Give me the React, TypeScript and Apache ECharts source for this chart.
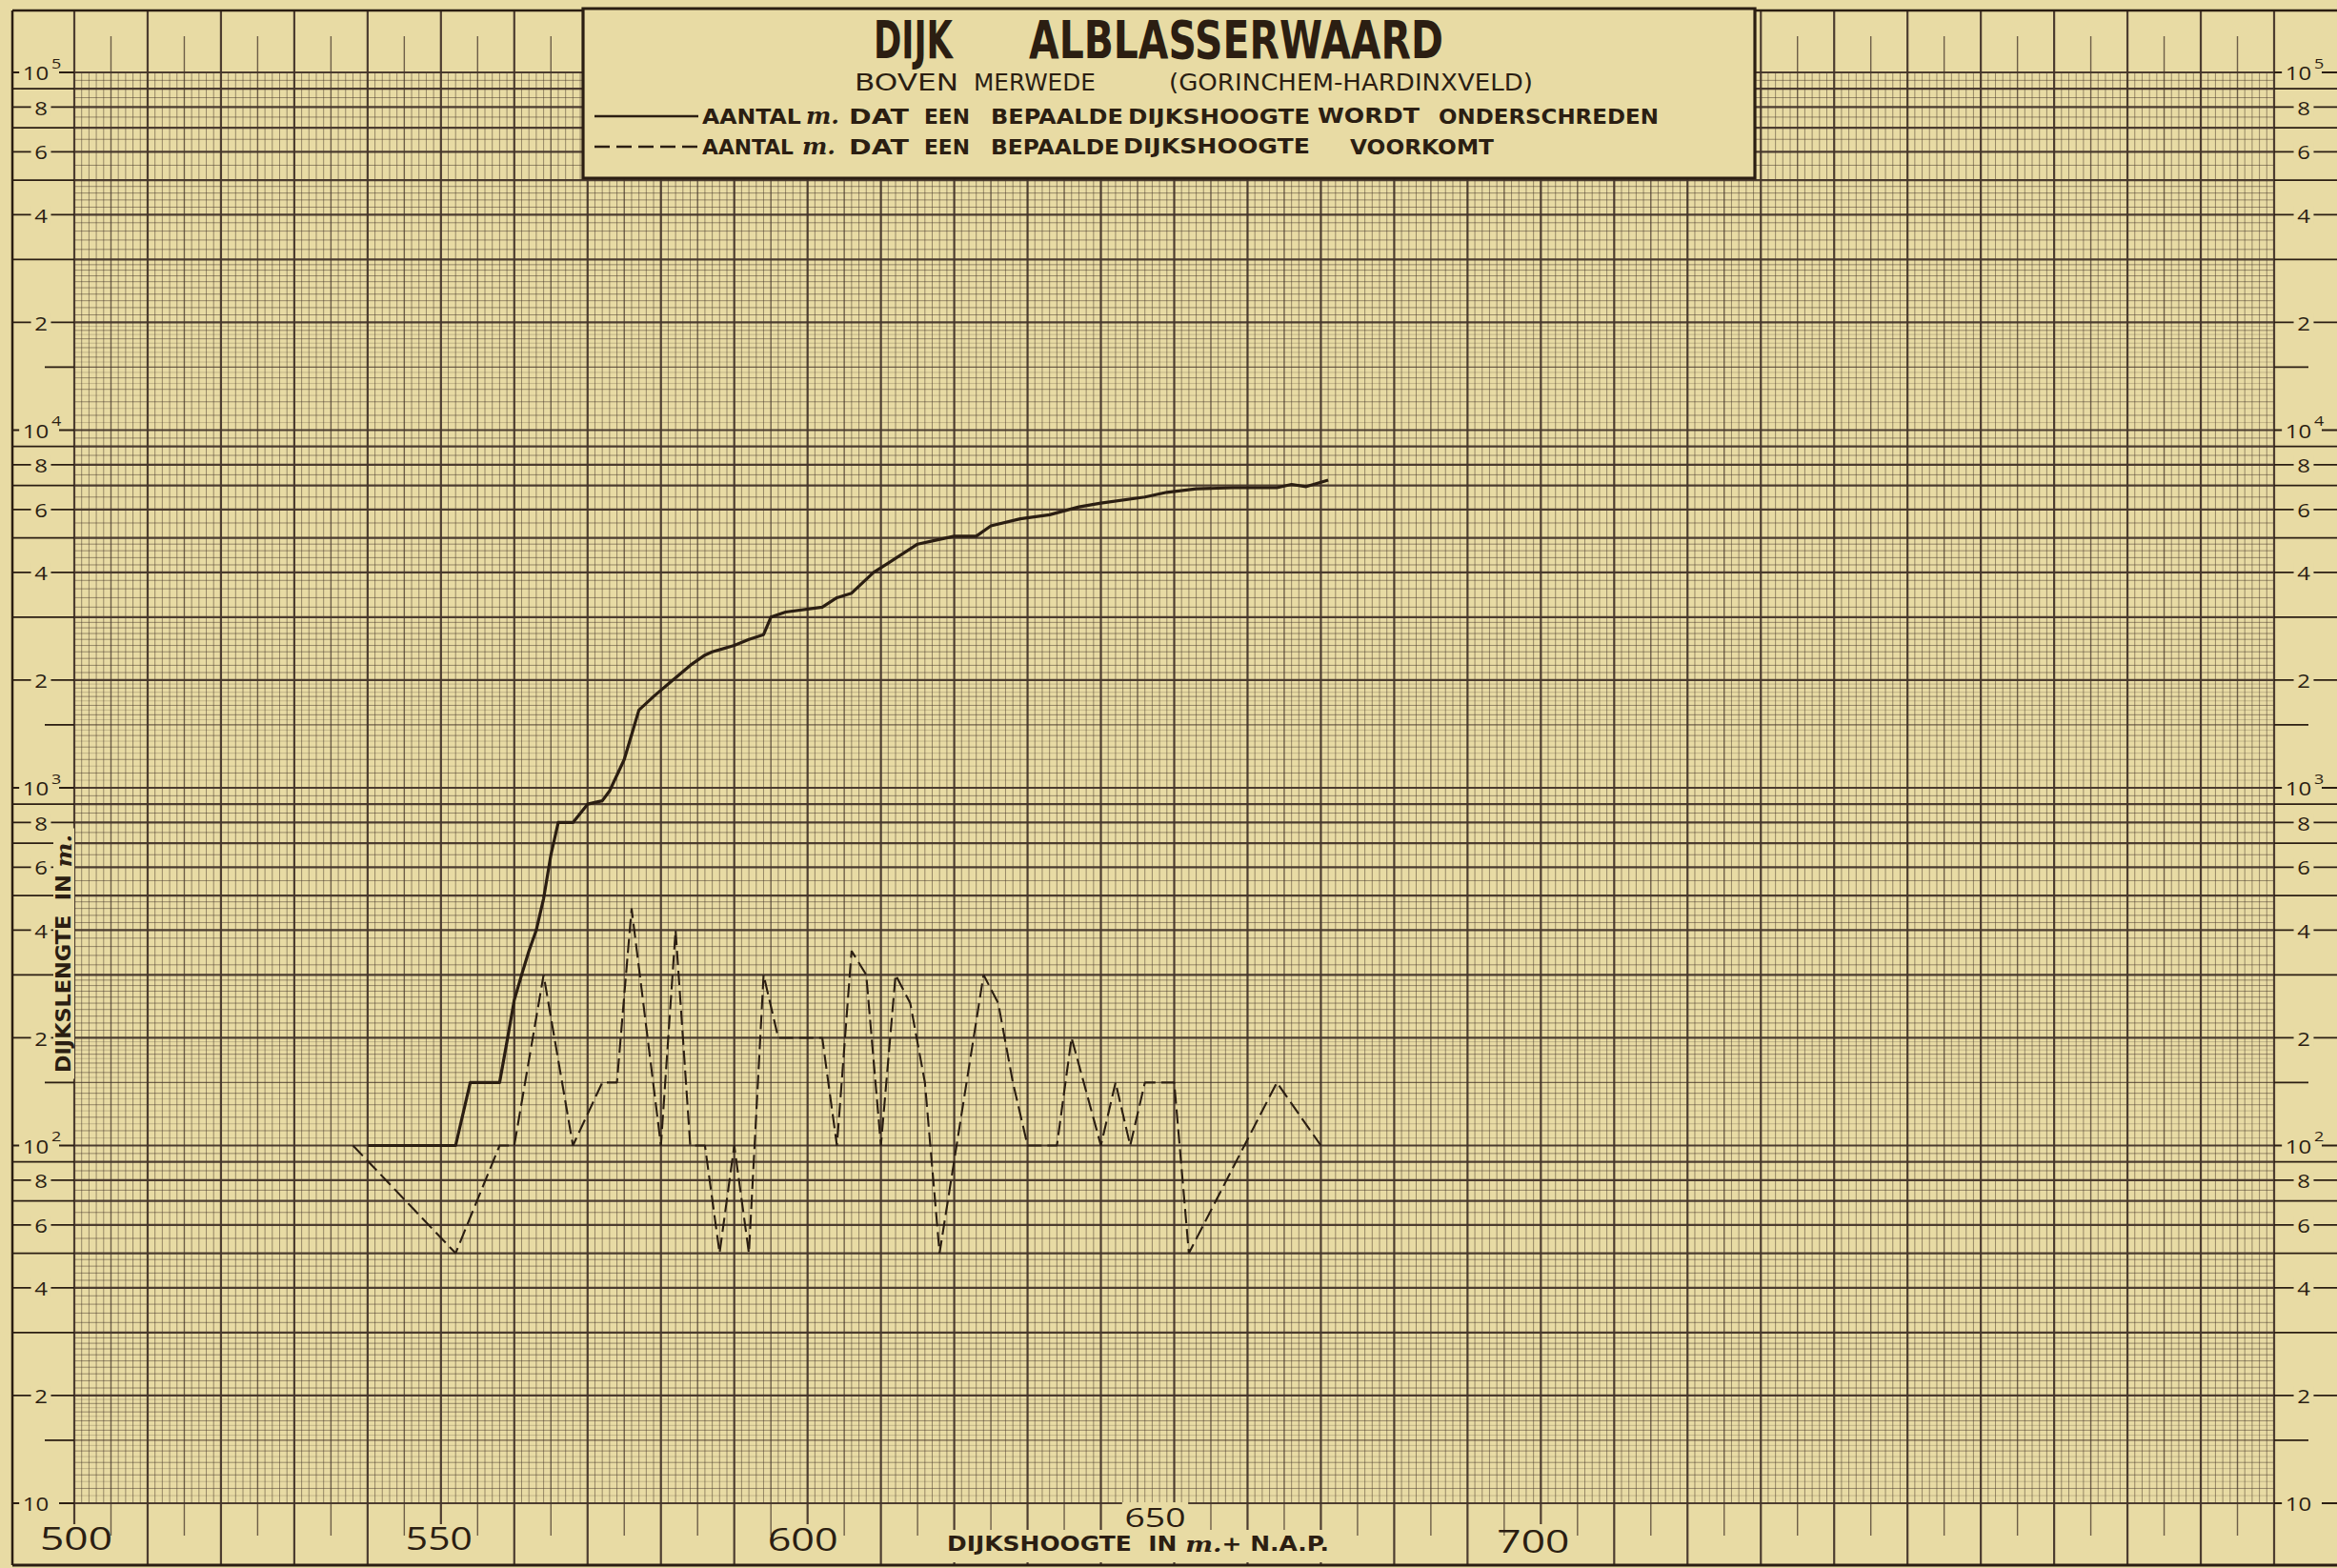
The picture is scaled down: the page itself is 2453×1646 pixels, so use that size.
import React, { useEffect, useRef } from "react";
import * as echarts from "echarts";

const CHART_W = 2453;
const CHART_H = 1646;

// ---------------- data ----------------
const X_MIN = 500;
const X_MAX = 800;
const Y_MIN = 10;
const Y_MAX = 100000;

// solid curve: aantal m. dat een bepaalde dijkshoogte wordt onderschreden
const ONDERSCHREDEN_X = [540, 552, 554, 558, 559, 560, 561, 562, 563, 564, 565, 566, 568, 570, 572, 573, 575, 577, 579, 581, 584, 586, 587, 590, 592, 594, 595, 597, 602, 604, 606, 609, 611, 615, 617, 620, 623, 625, 629, 633, 637, 640, 646, 649, 653, 658, 664, 666, 668, 671];
const ONDERSCHREDEN_Y = [100, 100, 150, 150, 195, 255, 300, 350, 400, 490, 650, 800, 800, 900, 920, 980, 1200, 1650, 1800, 1950, 2200, 2350, 2400, 2500, 2600, 2680, 3000, 3100, 3200, 3400, 3500, 4000, 4250, 4800, 4900, 5050, 5050, 5400, 5650, 5800, 6100, 6250, 6500, 6700, 6850, 6900, 6900, 7050, 6950, 7250];

// dashed curve: aantal m. dat een bepaalde dijkshoogte voorkomt
const VOORKOMT_X = [538, 552, 558, 560, 564, 568, 572, 574, 576, 580, 582, 584, 586, 588, 590, 592, 594, 596, 602, 604, 606, 608, 610, 612, 614, 616, 618, 624, 626, 628, 630, 634, 636, 640, 642, 644, 646, 650, 652, 664, 670];
const VOORKOMT_Y = [100, 50, 100, 100, 300, 100, 150, 150, 460, 100, 400, 100, 100, 50, 100, 50, 300, 200, 200, 100, 350, 300, 100, 300, 250, 150, 50, 300, 250, 150, 100, 100, 200, 100, 150, 100, 150, 150, 50, 150, 100];

const X_TICK_VALUES = [500, 550, 600, 650, 700];
const X_TICK_LABELS = ["500", "550", "600", "650", "700"];
const Y_DECADE_EXPONENTS = [1, 2, 3, 4, 5];
const Y_LABELED_MANTISSAS = [2, 4, 6, 8];
const Y_UNLABELED_MANTISSAS = [1.5, 3, 5, 7, 9];

const TITLE_WORDS = ["DIJK", "ALBLASSERWAARD"];
const SUBTITLE_WORDS = ["BOVEN", "MERWEDE", "(GORINCHEM-HARDINXVELD)"];
const LEGEND_SOLID_WORDS = ["AANTAL", "m.", "DAT", "EEN", "BEPAALDE", "DIJKSHOOGTE", "WORDT", "ONDERSCHREDEN"];
const LEGEND_DASHED_WORDS = ["AANTAL", "m.", "DAT", "EEN", "BEPAALDE", "DIJKSHOOGTE", "VOORKOMT"];
const X_NAME_PARTS = ["DIJKSHOOGTE  IN ", "m.", "+ N.A.P."];
const Y_NAME_PARTS = ["DIJKSLENGTE  IN ", "m."];

// ---------------- layout & style (not data) ----------------
const PAPER = "#E8DBA4";
const INK = "#2B1E12";
const GRID_INK = "#45352a";
const BOX_FONT = '"DejaVu Sans", "Liberation Sans", sans-serif';
const NUM_FONT = '"Open Sans", "DejaVu Sans", sans-serif';
const SCRIPT_FONT = '"DejaVu Serif", "Liberation Serif", serif';

const GRID_LEFT = 78;
const GRID_TOP = 76;
const GRID_W = 2309;
const GRID_H = 1502;

const GRID_STYLES = [
  { width: 0.7, opacity: 0.32 },
  { width: 1, opacity: 0.5 },
  { width: 1.4, opacity: 0.75 },
  { width: 2.2, opacity: 0.95 },
];

const TITLE_SPANS = [[917, 1000], [1080, 1515]];
const SUBTITLE_SPANS = [[897, 1006], [1022, 1150], [1227, 1609]];
const LEGEND_SOLID_SPANS = [[737, 841], [846, 881], [891, 954], [970, 1018], [1040, 1179], [1184, 1375], [1383, 1490], [1510, 1741]];
const LEGEND_DASHED_SPANS = [[737, 833], [842, 877], [891, 954], [970, 1018], [1040, 1175], [1179, 1375], [1417, 1568]];

// per x-tick label: offset from tick, vertical distance below plot, size, target width
const X_LABEL_LAYOUT = [
  { dx: 2, dy: 37, size: 32, w: 76, beside: false },
  { dx: -2, dy: 37, size: 32, w: 70, beside: false },
  { dx: -5, dy: 37, size: 32, w: 74, beside: false },
  { dx: -20, dy: 14, size: 28, w: 64, beside: true },
  { dx: -8, dy: 40, size: 32, w: 76, beside: false },
];

const LOG_SUBDIVISIONS = [
  [1, 2, 0.05],
  [2, 3, 0.1],
  [3, 5, 0.2],
  [5, 10, 0.5],
];

let measureCtx: CanvasRenderingContext2D | null = null;
function measure(text: string, font: string): number {
  if (!measureCtx) measureCtx = document.createElement("canvas").getContext("2d");
  if (!measureCtx) return text.length * 10;
  measureCtx.font = font;
  return measureCtx.measureText(text).width || 1;
}
function fontOf(size: number, family: string, weight = "normal", style = "normal") {
  return `${style} ${weight} ${size}px ${family}`;
}

function buildHGrid() {
  const out: { v: number; w: number }[] = [];
  for (let e = 1; e <= 4; e++) {
    const base = Math.pow(10, e);
    for (const [a, b, s] of LOG_SUBDIVISIONS) {
      const n = Math.round((b - a) / s);
      for (let k = 0; k < n; k++) {
        const m = Math.round((a + k * s) * 100) / 100;
        let w = 1;
        if (Math.abs(m - Math.round(m)) < 1e-9) w = 3;
        else if (Math.abs(m - 1.5) < 1e-9) w = 2;
        else if (a === 1 && Math.abs(m * 10 - Math.round(m * 10)) > 1e-6) w = 0;
        out.push({ v: m * base, w });
      }
    }
  }
  out.push({ v: Y_MAX, w: 3 });
  return out;
}

function buildVGrid() {
  const out: { v: number; w: number }[] = [];
  for (let x = X_MIN; x <= X_MAX; x++) {
    out.push({ v: x, w: x % 10 === 0 ? 3 : x % 5 === 0 ? 2 : 1 });
  }
  return out;
}

function buildYMargin() {
  const out: { v: number; kind: string; text?: string; exp?: number }[] = [];
  for (const e of Y_DECADE_EXPONENTS) out.push({ v: Math.pow(10, e), kind: "dec", exp: e });
  for (let e = 1; e <= 4; e++) {
    const base = Math.pow(10, e);
    for (const m of Y_LABELED_MANTISSAS) out.push({ v: m * base, kind: "lab", text: String(m) });
    for (const m of Y_UNLABELED_MANTISSAS) out.push({ v: m * base, kind: m === 1.5 ? "half" : "plain" });
  }
  return out;
}

function fittedText(text: string, x0: number, x1: number, cy: number, size: number, family: string, weight = "normal", style = "normal", z = 52) {
  const w = measure(text, fontOf(size, family, weight, style));
  return {
    type: "text",
    x: x0,
    y: cy,
    scaleX: (x1 - x0) / w,
    z,
    silent: true,
    style: {
      text,
      fontSize: size,
      fontFamily: family,
      fontWeight: weight,
      fontStyle: style,
      fill: INK,
      textAlign: "left",
      textVerticalAlign: "middle",
    },
  };
}

function wordLine(words: string[], spans: number[][], cy: number, size: number) {
  return words.map((wd, i) =>
    wd === "m."
      ? fittedText(wd, spans[i][0], spans[i][1], cy, size + 2, SCRIPT_FONT, "bold", "italic")
      : fittedText(wd, spans[i][0], spans[i][1], cy, size, BOX_FONT, "bold")
  );
}

function segGroup(parts: string[], left: number, cy: number, target: number, size: number, rotation: number, bg: { px: number; top: number; bottom: number }) {
  const fonts = parts.map((p) => (p === "m." ? fontOf(size + 2, SCRIPT_FONT, "bold", "italic") : fontOf(size, BOX_FONT, "bold")));
  const widths = parts.map((p, i) => measure(p, fonts[i]));
  const total = widths.reduce((a, b) => a + b, 0) || 1;
  const children: any[] = [
    {
      type: "rect",
      z: 52,
      silent: true,
      shape: { x: -bg.px, y: -bg.top, width: total + bg.px * 2, height: bg.top + bg.bottom },
      style: { fill: PAPER },
    },
  ];
  let cur = 0;
  parts.forEach((p, i) => {
    const italic = p === "m.";
    children.push({
      type: "text",
      x: cur,
      y: 0,
      z: 53,
      silent: true,
      style: {
        text: p,
        fontSize: italic ? size + 2 : size,
        fontFamily: italic ? SCRIPT_FONT : BOX_FONT,
        fontWeight: "bold",
        fontStyle: italic ? "italic" : "normal",
        fill: INK,
        textAlign: "left",
        textVerticalAlign: "middle",
      },
    });
    cur += widths[i];
  });
  return { type: "group", x: left, y: cy, rotation, scaleX: target / total, z: 52, silent: true, children };
}

function buildOption() {
  const H_GRID = buildHGrid();
  const V_GRID = buildVGrid();
  const Y_MARGIN = buildYMargin();
  const X_STOPS = X_TICK_VALUES.filter((_, i) => !X_LABEL_LAYOUT[i].beside);

  const styleFor = (w: number) => GRID_STYLES[w];

  const graphic: any[] = [
    // outer frame
    { type: "line", z: 40, silent: true, shape: { x1: 13, y1: 11, x2: 13, y2: 1643 }, style: { stroke: INK, lineWidth: 2.5 } },
    { type: "line", z: 40, silent: true, shape: { x1: 13, y1: 11, x2: CHART_W, y2: 11 }, style: { stroke: INK, lineWidth: 2.5 } },
    { type: "line", z: 40, silent: true, shape: { x1: 13, y1: 1643, x2: CHART_W, y2: 1643 }, style: { stroke: INK, lineWidth: 3 } },
    // title box
    { type: "rect", z: 50, silent: true, shape: { x: 612, y: 9, width: 1230, height: 178 }, style: { fill: PAPER, stroke: INK, lineWidth: 3.2 } },
    ...TITLE_WORDS.map((t, i) => fittedText(t, TITLE_SPANS[i][0], TITLE_SPANS[i][1], 42, 56, BOX_FONT, "bold")),
    ...SUBTITLE_WORDS.map((t, i) => fittedText(t, SUBTITLE_SPANS[i][0], SUBTITLE_SPANS[i][1], 87, 24, BOX_FONT, "normal")),
    { type: "line", z: 51, silent: true, shape: { x1: 624, y1: 122, x2: 733, y2: 122 }, style: { stroke: INK, lineWidth: 2.4 } },
    { type: "line", z: 51, silent: true, shape: { x1: 624, y1: 154, x2: 735, y2: 154 }, style: { stroke: INK, lineWidth: 2.4, lineDash: [16, 7] } },
    ...wordLine(LEGEND_SOLID_WORDS, LEGEND_SOLID_SPANS, 122, 22),
    ...wordLine(LEGEND_DASHED_WORDS, LEGEND_DASHED_SPANS, 154, 22),
    // axis names
    segGroup(X_NAME_PARTS, 994, 1621, 401, 21, 0, { px: 6, top: 15, bottom: 19 }),
    segGroup(Y_NAME_PARTS, 67, 1126, 250, 21, Math.PI / 2, { px: 6, top: 11, bottom: 11 }),
  ];

  return {
    animation: false,
    backgroundColor: PAPER,
    grid: { left: GRID_LEFT, top: GRID_TOP, width: GRID_W, height: GRID_H, show: false },
    xAxis: { type: "value", min: X_MIN, max: X_MAX, show: false },
    yAxis: { type: "log", logBase: 10, min: Y_MIN, max: Y_MAX, show: false },
    graphic,
    series: [
      {
        type: "custom",
        name: "grid-h",
        silent: true,
        clip: false,
        z: 1,
        encode: { x: 0, y: 1 },
        data: H_GRID.map((g) => [X_MIN, g.v, g.w]),
        renderItem: (params: any, api: any) => {
          const cs = params.coordSys;
          const v = api.value(1);
          const st = styleFor(api.value(2));
          const y = api.coord([X_MIN, v])[1];
          return {
            type: "line",
            shape: { x1: cs.x, y1: y, x2: cs.x + cs.width, y2: y },
            style: { stroke: GRID_INK, lineWidth: st.width, opacity: st.opacity },
          };
        },
      },
      {
        type: "custom",
        name: "grid-v",
        silent: true,
        clip: false,
        z: 1,
        encode: { x: 0, y: 1 },
        data: V_GRID.map((g) => [g.v, Y_MIN, g.w]),
        renderItem: (params: any, api: any) => {
          const cs = params.coordSys;
          const x = api.value(0);
          const w = api.value(2);
          const st = styleFor(w);
          const px = api.coord([x, Y_MIN])[0];
          let y1 = cs.y;
          let y2 = cs.y + cs.height;
          if (w === 3) {
            y1 -= 65;
            y2 += 65;
          } else if (w === 2) {
            y1 -= 38;
            y2 += 34;
          }
          if (X_STOPS.indexOf(x) >= 0) y2 = cs.y + cs.height + 22;
          return {
            type: "line",
            shape: { x1: px, y1, x2: px, y2 },
            style: { stroke: GRID_INK, lineWidth: st.width, opacity: st.opacity },
          };
        },
      },
      {
        type: "custom",
        name: "y-margin",
        silent: true,
        clip: false,
        z: 3,
        encode: { x: 0, y: 1 },
        data: Y_MARGIN.map((t) => [X_MIN, t.v]),
        renderItem: (params: any, api: any) => {
          const cs = params.coordSys;
          const t = Y_MARGIN[params.dataIndex];
          const y = api.coord([X_MIN, t.v])[1];
          const xl = cs.x;
          const xr = cs.x + cs.width;
          const half = t.kind === "half";
          const lineStyle = { stroke: INK, lineWidth: 1.8 };
          const children: any[] = [
            { type: "line", shape: { x1: half ? xl - 31 : xl - 65, y1: y, x2: xl, y2: y }, style: lineStyle },
            { type: "line", shape: { x1: xr, y1: y, x2: half ? xr + 36 : xr + 66, y2: y }, style: lineStyle },
          ];
          const txt = (text: string, x: number, yy: number, size: number, align: string, pad: number[], bg: boolean) => {
            const s: any = {
              text,
              fontSize: size,
              fontFamily: NUM_FONT,
              fill: INK,
              textAlign: align,
              textVerticalAlign: "middle",
            };
            if (bg) {
              s.backgroundColor = PAPER;
              s.padding = pad;
            }
            return { type: "text", x, y: yy, scaleX: 1.2, style: s };
          };
          for (const cx of [xl - 35, xr + 31]) {
            if (t.kind === "lab") {
              children.push(txt(t.text as string, cx, y, 20, "center", [0, 3, 0, 3], true));
            } else if (t.kind === "dec") {
              children.push(txt("10", cx + 19, y, 20, "right", [0, 9, 0, 3], true));
              if ((t.exp as number) > 1) children.push(txt(String(t.exp), cx + 11, y - 10, 15, "left", [0, 0, 0, 0], false));
            }
          }
          return { type: "group", children };
        },
      },
      {
        type: "custom",
        name: "x-labels",
        silent: true,
        clip: false,
        z: 4,
        encode: { x: 0, y: 1 },
        data: X_TICK_VALUES.map((v) => [v, Y_MIN]),
        renderItem: (params: any, api: any) => {
          const cs = params.coordSys;
          const i = params.dataIndex;
          const L = X_LABEL_LAYOUT[i];
          const px = api.coord([X_TICK_VALUES[i], Y_MIN])[0];
          const text = X_TICK_LABELS[i];
          const w = measure(text, fontOf(L.size, NUM_FONT));
          const s: any = {
            text,
            fontSize: L.size,
            fontFamily: NUM_FONT,
            fill: INK,
            textAlign: "center",
            textVerticalAlign: "middle",
          };
          if (L.beside) {
            s.backgroundColor = PAPER;
            s.padding = [1, 2, 1, 2];
          }
          return { type: "text", x: px + L.dx, y: cs.y + cs.height + L.dy, scaleX: L.w / w, style: s };
        },
      },
      {
        type: "line",
        name: "Aantal m. dat een bepaalde dijkshoogte wordt onderschreden",
        data: ONDERSCHREDEN_X.map((x, i) => [x, ONDERSCHREDEN_Y[i]]),
        symbol: "none",
        showSymbol: false,
        silent: true,
        z: 10,
        lineStyle: { color: INK, width: 3.2, join: "round" },
      },
      {
        type: "line",
        name: "Aantal m. dat een bepaalde dijkshoogte voorkomt",
        data: VOORKOMT_X.map((x, i) => [x, VOORKOMT_Y[i]]),
        symbol: "none",
        showSymbol: false,
        silent: true,
        z: 10,
        lineStyle: { color: INK, width: 2.1, type: [15, 6] },
      },
    ],
  };
}

export default function App() {
  const ref = useRef<HTMLDivElement>(null);
  useEffect(() => {
    if (!ref.current) return;
    const chart = echarts.init(ref.current, undefined, { renderer: "svg" });
    chart.setOption(buildOption() as any);
    return () => {
      chart.dispose();
    };
  }, []);
  return (
    <div
      ref={ref}
      style={{ position: "fixed", left: 0, top: 0, width: CHART_W, height: CHART_H, background: PAPER }}
    />
  );
}
